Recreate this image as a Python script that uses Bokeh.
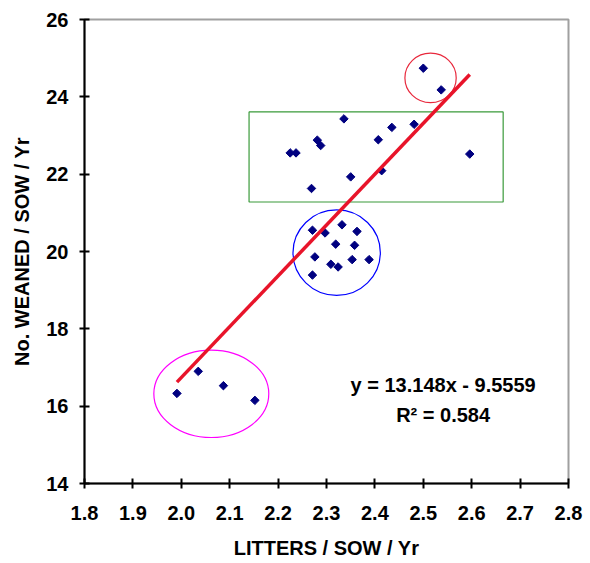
import math
from bokeh.plotting import figure
from bokeh.models import Range1d, FixedTicker
from bokeh.core.properties import value
from bokeh.embed import file_html
from bokeh.resources import INLINE

# Data: litters per sow per year vs number weaned per sow per year
litters = [1.991, 2.035, 2.087, 2.152,
           2.500, 2.537,
           2.336, 2.225, 2.237, 2.281, 2.288, 2.269, 2.350, 2.407, 2.414, 2.435, 2.481, 2.596,
           2.271, 2.297, 2.332, 2.363, 2.319, 2.358, 2.276, 2.353, 2.388, 2.309, 2.324, 2.271]
weaned = [16.33, 16.90, 16.53, 16.15,
          24.74, 24.18,
          23.43, 22.55, 22.55, 22.88, 22.74, 21.63, 21.93, 22.89, 22.09, 23.21, 23.29, 22.52,
          20.55, 20.48, 20.69, 20.52, 20.19, 20.16, 19.86, 19.79, 19.79, 19.67, 19.60, 19.39]

slope = 13.148
intercept = -9.5559
r_squared = 0.584

x_ticks = [1.8, 1.9, 2.0, 2.1, 2.2, 2.3, 2.4, 2.5, 2.6, 2.7, 2.8]
y_ticks = [14, 16, 18, 20, 22, 24, 26]

# Highlight groups (center x, center y, width, height, color)
ell_x = [2.062, 2.321, 2.515]
ell_y = [16.32, 19.97, 24.49]
ell_w = [0.2375, 0.1805, 0.106]
ell_h = [2.26, 2.21, 1.28]
ell_c = ["#ff00ff", "#0000ff", "#e8283c"]
box_left, box_right, box_bottom, box_top = 2.140, 2.665, 21.28, 23.61

FONT = "Liberation Sans"

p = figure(width=590, height=563, output_backend="svg", toolbar_location=None,
           x_range=Range1d(1.8, 2.8), y_range=Range1d(14, 26),
           min_border_left=84, min_border_right=22, min_border_top=19, min_border_bottom=80)
p.grid.visible = False
p.outline_line_color = "#a0a0a0"
p.outline_line_width = 2
p.background_fill_color = "white"
p.border_fill_color = "white"

for ax in (p.xaxis[0], p.yaxis[0]):
    ax.axis_line_color = "black"
    ax.axis_line_width = 2
    ax.major_tick_line_color = "black"
    ax.major_tick_line_width = 2
    ax.major_tick_in = 5
    ax.major_tick_out = 5
    ax.minor_tick_line_color = None
    ax.major_label_text_font = FONT
    ax.major_label_text_font_style = "bold"
    ax.major_label_text_font_size = "20px"
    ax.major_label_text_color = "black"
    ax.axis_label_text_font = FONT
    ax.axis_label_text_font_style = "bold"
    ax.axis_label_text_font_size = "20px"
    ax.axis_label_text_color = "black"

p.xaxis.ticker = FixedTicker(ticks=x_ticks)
p.yaxis.ticker = FixedTicker(ticks=y_ticks)
p.xaxis.major_label_overrides = {t: f"{t:.1f}" for t in x_ticks}
p.xaxis.major_label_standoff = 17
p.yaxis.major_label_standoff = 11
p.xaxis.axis_label = "LITTERS / SOW / Yr"
p.yaxis.axis_label = "No. WEANED / SOW / Yr"
p.xaxis.axis_label_standoff = 14
p.yaxis.axis_label_standoff = 10

# highlight shapes
p.ellipse(x=ell_x, y=ell_y, width=ell_w, height=ell_h, fill_color=None,
          line_color=ell_c, line_width=1.2)
p.quad(left=[box_left], right=[box_right], bottom=[box_bottom], top=[box_top],
       fill_color=None, line_color="#3a9a3a", line_width=1.2)

# data points (diamonds as rotated squares)
p.scatter(litters, weaned, marker="square", angle=math.pi / 4, size=6,
          fill_color="#000080", line_color="#000080")

# regression line
x0, x1 = min(litters), max(litters)
p.line([x0, x1], [slope * x0 + intercept, slope * x1 + intercept],
       line_color="#e8142a", line_width=3.5)

# equation text
p.text(x=[2.541, 2.541], y=[16.54, 15.77],
       text=[f"y = {slope}x - {abs(intercept)}", f"R\u00b2 = {r_squared}"],
       text_font=value(FONT), text_font_style="bold", text_font_size="20px",
       text_align="center", text_baseline="middle", text_color="black")

open("out.html", "w").write(file_html(p, INLINE))
